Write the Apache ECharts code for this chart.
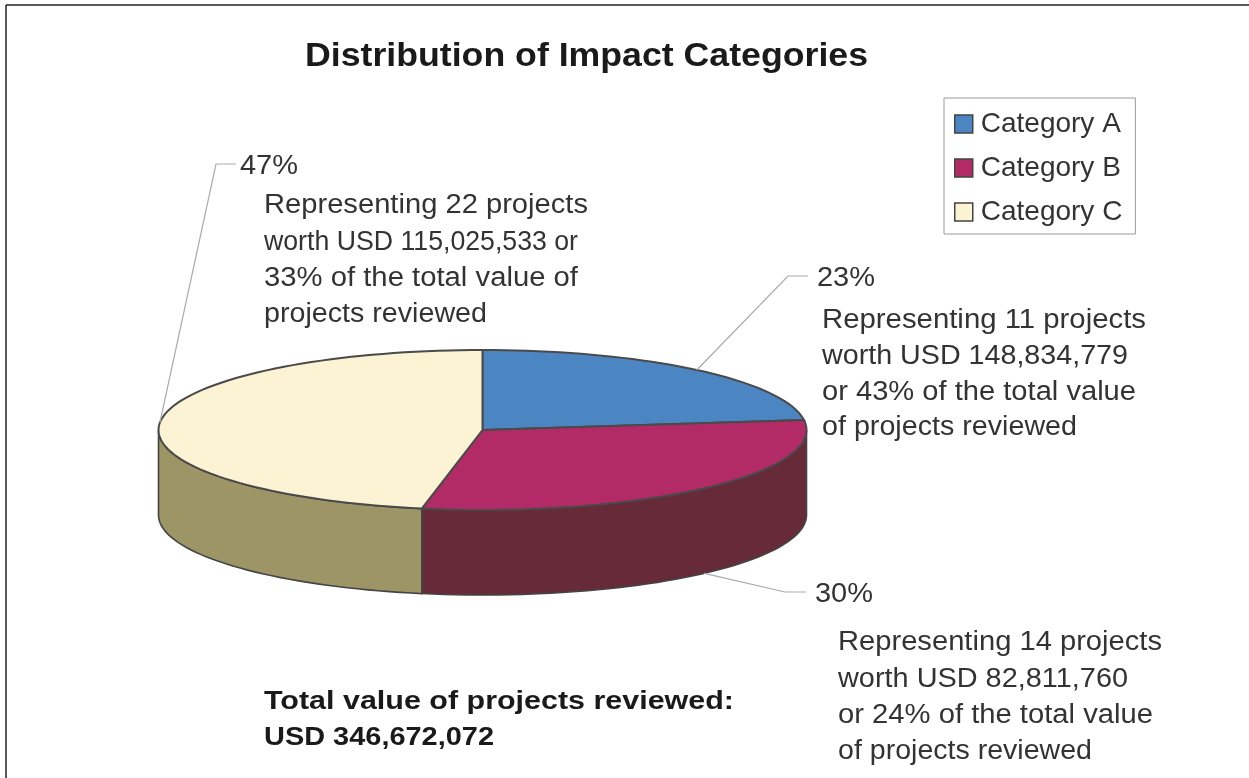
<!DOCTYPE html>
<html style='height: 100%'>
<head>
    <meta charset='utf-8'>
</head>
<body style='height: 100%; margin: 0; background: #fff'>
    <div id='container' style='height: 100%'></div>
    <script src="https://cdn.jsdelivr.net/npm/echarts@6/dist/echarts.min.js"></script>
    <script type="text/javascript">
var titleText = 'Distribution of Impact Categories';
var categories = ['Category A', 'Category B', 'Category C'];
var shares = [23, 30, 47];
var notesA = ['Representing 11 projects', 'worth USD 148,834,779', 'or 43% of the total value', 'of projects reviewed'];
var notesB = ['Representing 14 projects', 'worth USD 82,811,760', 'or 24% of the total value', 'of projects reviewed'];
var notesC = ['Representing 22 projects', 'worth USD 115,025,533 or', '33% of the total value of', 'projects reviewed'];
var totalLines = ['Total value of projects reviewed:', 'USD 346,672,072'];

// look of the pie
var topColors = ['#4c86c2', '#b32b66', '#fbf3d3'];
var sideColors = ['#2d5277', '#662a39', '#9e9567'];
var cx = 482.5, cy = 430, rx = 324, ry = 80, depth = 85;
var elbows = [[788, 276, 808, 276], [785, 592, 806, 592], [216, 164, 236, 164]];
var font = '"Liberation Sans", Arial, sans-serif';
var textColor = '#333';

var total = 0;
for (var i = 0; i < shares.length; i++) {
    total += shares[i];
}

function rim(deg, drop) {
    var r = deg * Math.PI / 180;
    return [cx + rx * Math.sin(r), cy - ry * Math.cos(r) + drop];
}

function arc(from, to, drop) {
    var pts = [];
    var n = Math.max(2, Math.ceil(Math.abs(to - from) / 2));
    for (var i = 0; i <= n; i++) {
        pts.push(rim(from + (to - from) * i / n, drop));
    }
    return pts;
}

function sliceItem(params, api) {
    var idx = params.seriesIndex;
    var before = 0;
    for (var i = 0; i < idx; i++) {
        before += shares[i];
    }
    var start = before / total * 360;
    var end = (before + api.value(0)) / total * 360;
    var mid = (start + end) / 2;
    var children = [];

    // only the front half of the rim shows a wall
    var a = Math.max(start, 90), b = Math.min(end, 270);
    if (a < b) {
        children.push({
            type: 'polygon',
            shape: {points: arc(a, b, 0).concat(arc(b, a, depth))},
            style: {fill: sideColors[idx], stroke: '#444', lineWidth: 1.6}
        });
    }
    children.push({
        type: 'polygon',
        shape: {points: [[cx, cy]].concat(arc(start, end, 0))},
        style: {fill: topColors[idx], stroke: '#4a4a4a', lineWidth: 2}
    });

    var front = mid > 90 && mid < 270;
    var from = rim(mid, front ? depth : 0);
    var el = elbows[idx];
    children.push({
        type: 'polyline',
        shape: {points: [from, [el[0], el[1]], [el[2], el[3]]]},
        style: {fill: null, stroke: '#aaa', lineWidth: 1.2}
    });
    return {type: 'group', children: children};
}

// the reference text is stretched sideways, so each line is scaled to its width
var measure = document.createElement('canvas').getContext('2d');
function lineText(str, x, y, width, fontStr, color) {
    measure.font = fontStr;
    return {
        type: 'text', x: x, y: y + 2.5,
        scaleX: width / measure.measureText(str).width,
        style: {text: str, font: fontStr, fill: color, verticalAlign: 'middle'}
    };
}

function noteLines(lines, x, ys, widths) {
    var out = [];
    for (var i = 0; i < lines.length; i++) {
        out.push(lineText(lines[i], x, ys[i], widths[i], '27px ' + font, textColor));
    }
    return out;
}

var series = [];
for (var i = 0; i < categories.length; i++) {
    series.push({
        name: categories[i],
        type: 'custom',
        coordinateSystem: 'none',
        itemStyle: {color: topColors[i]},
        renderItem: sliceItem,
        silent: true,
        animation: false,
        data: [[shares[i]]]
    });
}

var graphics = [
    {type: 'line', shape: {x1: 6, y1: 5, x2: 6, y2: 778}, style: {stroke: '#222', lineWidth: 1.5}},
    {type: 'line', shape: {x1: 6, y1: 5, x2: 1249, y2: 5}, style: {stroke: '#222', lineWidth: 1.5}},
    lineText(titleText, 305, 54, 563, 'bold 33px ' + font, '#1a1a1a'),
    lineText(shares[2] + '%', 240, 164, 58, '27px ' + font, textColor),
    lineText(shares[0] + '%', 817, 276, 58, '27px ' + font, textColor),
    lineText(shares[1] + '%', 815, 592, 58, '27px ' + font, textColor),
    lineText(totalLines[0], 264, 699, 470, 'bold 26px ' + font, '#1a1a1a'),
    lineText(totalLines[1], 264, 735, 230, 'bold 26px ' + font, '#1a1a1a')
].concat(
    noteLines(notesC, 264, [203, 240, 276, 312], [324, 314, 314, 223]),
    noteLines(notesA, 822, [318, 354, 390, 425], [324, 306, 314, 255]),
    noteLines(notesB, 838, [640, 677, 713, 749], [324, 290, 315, 254])
);

var myChart = echarts.init(document.getElementById('container'));
var option = {
    backgroundColor: '#fff',
    animation: false,
    legend: {
        data: categories,
        orient: 'vertical',
        left: 944,
        top: 98,
        padding: [12, 13, 8, 10],
        itemWidth: 18,
        itemHeight: 18,
        itemGap: 16,
        icon: 'rect',
        selectedMode: false,
        borderColor: '#999',
        borderWidth: 1,
        itemStyle: {borderColor: '#444', borderWidth: 1.5},
        textStyle: {fontFamily: font, fontSize: 28, color: textColor, padding: [0, 0, 0, 3]}
    },
    graphic: graphics,
    series: series
};
myChart.setOption(option);
    </script>
</body>
</html>
